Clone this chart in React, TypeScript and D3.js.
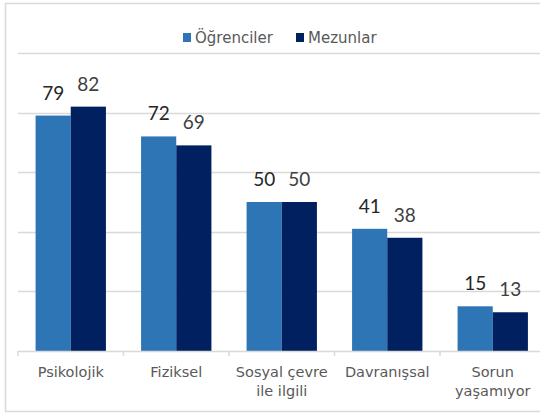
import { useEffect, useRef } from "react";
import * as d3 from "d3";

const categories = ["Psikolojik", "Fiziksel", "Sosyal çevre|ile ilgili", "Davranışsal", "Sorun|yaşamıyor"];
const seriesNames = ["Öğrenciler", "Mezunlar"];
const ogrenciler = [79, 72, 50, 41, 15];
const mezunlar = [82, 69, 50, 38, 13];
const yTicks = [0, 20, 40, 60, 80, 100];

const colors = ["#2E75B6", "#002060"];
const labelColors = ["#262626", "#404040"];
const NUM_FONT = "Lato, 'DejaVu Sans', sans-serif";
const TEXT_FONT = "'DejaVu Sans', sans-serif";

export default function App() {
  const svgRef = useRef<SVGSVGElement>(null);

  useEffect(() => {
    draw();
  }, []);

  function draw() {
    const svg = d3.select(svgRef.current);
    svg.selectAll("*").remove();

    const width = 540;
    const height = 413;
    svg.attr("width", width).attr("height", height);

    // chart frame (right side is cut off in the original)
    svg.append("rect")
      .attr("x", 5.5)
      .attr("y", 3.5)
      .attr("width", 600)
      .attr("height", 408)
      .attr("fill", "white")
      .attr("stroke", "#D9D9D9")
      .attr("stroke-width", 1.5);

    const plotLeft = 18;
    const plotRight = 545.5;
    const plotTop = 53;
    const plotBottom = 351;

    const x0 = d3.scaleBand()
      .domain(categories)
      .range([plotLeft, plotRight])
      .paddingInner(1 / 3)
      .paddingOuter(1 / 6);
    const x1 = d3.scaleBand()
      .domain(seriesNames)
      .range([0, x0.bandwidth()]);
    const y = d3.scaleLinear().domain([0, 100]).range([plotBottom, plotTop]);

    // gridlines
    svg.append("g")
      .selectAll("line")
      .data(yTicks.filter(t => t > 0))
      .join("line")
      .attr("x1", plotLeft)
      .attr("x2", plotRight)
      .attr("y1", d => Math.round(y(d)) + 0.5)
      .attr("y2", d => Math.round(y(d)) + 0.5)
      .attr("stroke", "#D9D9D9")
      .attr("stroke-width", 1.5);

    const table = categories.map((c, i) => ({
      category: c,
      values: [ogrenciler[i], mezunlar[i]],
    }));

    const groups = svg.append("g")
      .selectAll("g")
      .data(table)
      .join("g")
      .attr("transform", d => `translate(${x0(d.category)},0)`);

    groups.selectAll("rect")
      .data(d => d.values.map((v, i) => ({ v, i })))
      .join("rect")
      .attr("x", d => x1(seriesNames[d.i])!)
      .attr("y", d => y(d.v))
      .attr("width", x1.bandwidth())
      .attr("height", d => plotBottom - y(d.v))
      .attr("fill", d => colors[d.i]);

    groups.selectAll("text")
      .data(d => d.values.map((v, i) => ({ v, i })))
      .join("text")
      .attr("x", d => x1(seriesNames[d.i])! + x1.bandwidth() / 2)
      .attr("y", d => y(d.v) - 16)
      .attr("text-anchor", "middle")
      .style("font-family", NUM_FONT)
      .style("font-size", "19px")
      .style("fill", d => labelColors[d.i])
      .text(d => d.v);

    // x axis line + ticks
    const axis = svg.append("g").attr("stroke", "#D9D9D9").attr("stroke-width", 1.5);
    axis.append("line")
      .attr("x1", plotLeft)
      .attr("x2", plotRight)
      .attr("y1", plotBottom + 0.5)
      .attr("y2", plotBottom + 0.5);
    const step = x0.step();
    axis.selectAll("line.tick")
      .data(d3.range(categories.length + 1))
      .join("line")
      .attr("class", "tick")
      .attr("x1", i => plotLeft + i * step)
      .attr("x2", i => plotLeft + i * step)
      .attr("y1", plotBottom)
      .attr("y2", plotBottom + 5);

    // category labels
    const labels = svg.append("g")
      .selectAll("text")
      .data(categories)
      .join("text")
      .attr("x", d => x0(d)! + x0.bandwidth() / 2)
      .attr("y", 377)
      .attr("text-anchor", "middle")
      .style("font-family", TEXT_FONT)
      .style("font-size", "14.5px")
      .style("fill", "#595959");
    labels.selectAll("tspan")
      .data(d => d.split("|"))
      .join("tspan")
      .attr("x", function () {
        return (this.parentNode as SVGTextElement).getAttribute("x");
      })
      .attr("dy", (_, i) => (i === 0 ? 0 : 19))
      .text(d => d);

    // legend
    const legendItems = [
      { name: seriesNames[0], x: 183 },
      { name: seriesNames[1], x: 296 },
    ];
    const legend = svg.append("g");
    legend.selectAll("rect")
      .data(legendItems)
      .join("rect")
      .attr("x", d => d.x)
      .attr("y", 33)
      .attr("width", 8)
      .attr("height", 9)
      .attr("fill", (_, i) => colors[i]);
    legend.selectAll("text")
      .data(legendItems)
      .join("text")
      .attr("x", d => d.x + 12)
      .attr("y", 43)
      .style("font-family", TEXT_FONT)
      .style("font-size", "15px")
      .style("fill", "#595959")
      .text(d => d.name);
  }

  return (
    <div>
      <style>{`body{margin:0;}`}</style>
      <svg ref={svgRef} style={{ display: "block" }}></svg>
    </div>
  );
}
